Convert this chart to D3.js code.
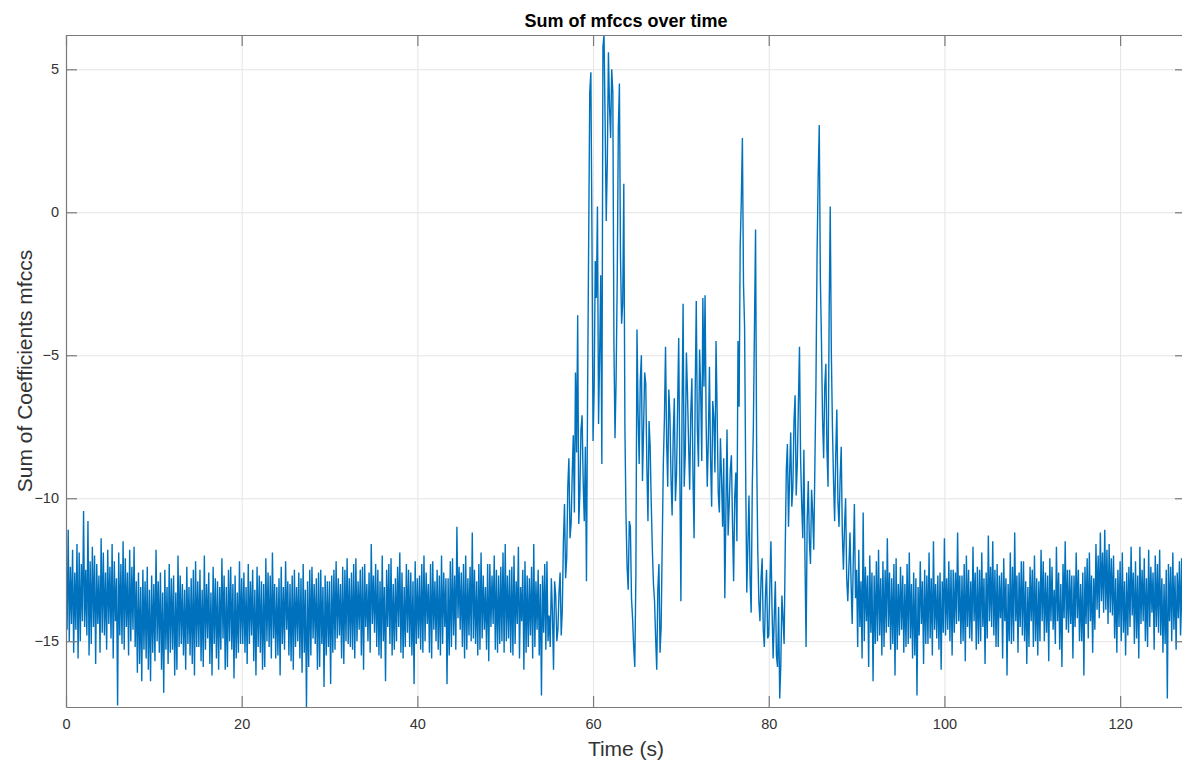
<!DOCTYPE html>
<html>
<head>
<meta charset="utf-8">
<script src="https://cdn.jsdelivr.net/npm/d3@7"></script>
<style>
  html, body { margin: 0; padding: 0; background: #ffffff; }
  svg { display: block; }
  text { font-family: "Liberation Sans", Arial, Helvetica, sans-serif; }
</style>
</head>
<body>
<svg id="chart" width="1182" height="764"></svg>
<script>
// Frame hop of the summed MFCC signal (seconds). Each section holds the
// frames on the hop grid and the frames half a hop later.
const frameHop = 0.25;

// Quiet opening, 0 s to 30 s (on-grid frames swing high, half-hop frames swing low)
const openingStart = 0;
const openingFrames = [
  -12.1, -11.1, -12.4, -11.8, -12.6, -11.6, -11.9, -12.3, -10.45, -12.5, -10.8, -12.2, -11.7, -12.0, -12.3, -12.7, -11.4, -11.9, -12.6, -11.8,
  -12.4, -11.6, -12.2, -12.8, -11.9, -12.3, -11.5, -12.1, -12.6, -11.8, -12.4, -11.7, -12.9, -12.6, -13.1, -12.5, -12.9, -12.4, -13.2, -12.7,
  -13.0, -11.8, -12.9, -12.6, -13.3, -12.5, -13.1, -12.3, -12.8, -12.7, -13.3, -12.0, -12.7, -13.0, -13.2, -12.4, -13.1, -12.8, -12.5, -12.2,
  -12.9, -12.5, -13.2, -12.0, -13.0, -12.6, -13.3, -12.4, -12.8, -12.9, -13.1, -12.1, -12.7, -13.1, -12.5, -12.4, -13.0, -12.7, -13.3, -12.2,
  -12.8, -12.6, -13.1, -12.3, -12.9, -12.5, -13.2, -12.4, -12.7, -12.9, -13.0, -12.1, -12.6, -12.7, -11.9, -13.0, -13.1, -12.8, -12.4, -13.1,
  -12.2, -12.9, -13.0, -12.7, -12.5, -13.1, -12.6, -12.8, -12.3, -13.2, -12.9, -12.5, -12.4, -13.0, -12.8, -12.6, -12.5, -13.1, -12.7, -12.9
];
const openingHalfFrames = [
  -14.6, -15.0, -14.4, -15.4, -14.6, -15.6, -15.0, -14.3, -14.5, -14.8, -15.5, -15.1, -14.5, -15.8, -14.4, -15.4, -14.7, -14.8, -15.3, -14.4,
  -14.9, -15.6, -14.3, -17.25, -14.8, -15.1, -15.3, -14.5, -15.5, -15.0, -14.6, -15.2, -16.1, -15.8, -16.4, -15.3, -15.6, -16.0, -16.4, -15.4,
  -15.7, -15.0, -15.4, -16.0, -16.8, -15.3, -15.8, -15.4, -15.3, -16.2, -16.0, -15.2, -15.1, -15.5, -16.0, -15.1, -15.5, -15.8, -16.2, -15.2,
  -15.2, -15.7, -15.9, -15.3, -14.9, -15.8, -16.2, -15.1, -15.6, -16.0, -15.3, -14.9, -16.0, -15.9, -15.0, -15.3, -16.3, -15.6, -15.4, -15.1,
  -15.1, -15.4, -15.8, -15.1, -14.8, -15.7, -16.2, -15.2, -15.4, -16.0, -15.9, -15.0, -15.2, -15.6, -14.9, -15.6, -15.5, -16.2, -15.1, -15.3,
  -14.6, -15.5, -15.7, -16.0, -15.2, -15.0, -15.6, -16.1, -15.4, -17.3, -15.9, -15.5, -14.9, -15.1, -16.0, -15.9, -15.1, -16.6, -15.5, -15.2
];

// Quiet middle, 30 s to 55 s
const middleStart = 30;
const middleFrames = [
  -12.9, -12.7, -12.5, -12.2, -12.8, -13.0, -12.4, -12.5, -12.1, -12.8, -12.6, -12.3, -12.1, -12.9, -12.5, -12.4, -12.3, -13.0, -12.6, -11.6,
  -12.7, -12.3, -12.5, -12.9, -12.0, -13.1, -12.5, -12.3, -12.1, -13.0, -12.8, -12.4, -11.9, -12.6, -13.1, -12.3, -12.5, -12.6, -12.9, -12.2,
  -12.8, -12.7, -12.3, -12.0, -12.6, -13.0, -12.3, -12.2, -12.9, -12.5, -12.7, -12.0, -12.6, -12.8, -12.8, -12.2, -12.1, -12.7, -11.0, -12.4,
  -12.6, -12.3, -12.0, -12.8, -12.4, -11.2, -12.5, -12.9, -12.3, -11.9, -12.7, -13.1, -12.3, -12.3, -12.7, -12.0, -12.5, -12.7, -12.4, -11.9,
  -11.6, -12.7, -12.5, -12.4, -12.0, -12.9, -11.7, -13.1, -12.5, -12.2, -12.7, -12.8, -12.4, -11.6, -12.9, -12.5, -13.0, -12.7, -12.3, -12.2
];
const middleHalfFrames = [
  -16.5, -15.4, -15.3, -14.9, -14.8, -15.6, -15.8, -15.0, -15.1, -15.2, -15.3, -15.6, -15.0, -14.6, -15.5, -16.0, -14.5, -15.0, -15.4, -14.4,
  -14.7, -15.2, -15.5, -15.6, -15.0, -16.4, -14.5, -15.1, -15.5, -15.3, -15.0, -14.5, -15.4, -15.6, -15.2, -14.7, -15.2, -15.5, -16.5, -15.1,
  -14.9, -15.3, -15.4, -15.0, -14.4, -15.4, -15.6, -14.6, -15.0, -15.3, -15.5, -15.1, -14.5, -16.5, -15.5, -15.2, -14.8, -15.3, -14.2, -14.6,
  -15.2, -15.6, -15.3, -14.8, -15.0, -14.9, -15.1, -15.5, -15.3, -14.9, -14.6, -15.3, -15.7, -14.5, -14.4, -15.3, -15.4, -15.1, -15.0, -15.4,
  -15.0, -14.9, -15.4, -15.5, -15.1, -14.4, -15.6, -14.3, -16.0, -15.4, -15.2, -14.8, -15.6, -15.2, -14.6, -15.5, -16.9, -14.7, -15.3, -15.0
];

// Active section with the loud bursts, 55 s to 90 s
const activeStart = 55;
const activeFrames = [
  -14.1, -12.8, -16.0, -13.4, -14.6, -12.6, -13.9, -10.2, -12.1, -8.6, -10.9, -7.8, -5.6, -3.6, -9.8, -7.1, -10.8, -12.9, -1.0, 4.9,
  -8.0, -1.7, 0.2, -5.0, -8.8, 6.2, -0.3, 5.6, 2.6, 4.2, -7.9, -2.4, 4.5, -3.9, 1.0, -10.6, -13.2, -11.0, -14.2, -15.9,
  -4.1, -8.8, -5.0, -7.6, -6.0, -10.8, -8.2, -11.8, -13.6, -16.0, -12.3, -14.5, -8.8, -4.7, -9.6, -7.1, -10.6, -6.5, -9.2, -4.4,
  -13.6, -3.2, -8.4, -6.3, -9.7, -5.8, -11.4, -3.1, -8.9, -6.2, -3.0, -2.9, -9.6, -5.4, -10.3, -7.2, -4.5, -9.8, -7.9, -11.0,
  -13.5, -7.6, -10.2, -8.5, -12.9, -9.1, -4.5, -1.2, 2.6, -4.0, -13.3, -9.9, -14.0, -7.5, -0.6, -11.8, -14.3, -12.1, -15.2, -12.5,
  -14.8, -11.5, -15.6, -12.9, -15.9, -17.0, -13.4, -15.1, -9.0, -11.0, -7.7, -9.6, -6.4, -8.8, -4.7, -10.2, -8.3, -15.2, -9.4, -12.3,
  -10.5, -8.9, -1.5, 3.05, -4.5, -8.6, -5.3, -9.6, 0.2, -7.5, -10.8, -6.9, -11.0, -8.2, -12.5, -10.0, -13.6, -11.2, -14.4, -10.2
];
const activeHalfFrames = [
  -15.2, -14.0, -12.9, -15.0, -13.3, -14.8, -11.5, -12.8, -9.6, -11.4, -9.2, -10.5, -8.4, -10.9, -7.6, -9.4, -8.2, -6.5, 4.2, -0.8,
  -6.2, -3.0, -7.4, -2.2, 5.8, 3.1, 1.8, 3.7, 5.0, -4.6, -5.8, 2.9, -1.6, -3.2, -7.5, -12.4, -10.8, -13.5, -15.2, -12.7,
  -7.0, -5.9, -9.4, -5.6, -8.9, -7.3, -10.2, -13.0, -14.9, -13.2, -15.4, -11.6, -7.2, -8.0, -6.2, -9.3, -7.8, -10.1, -6.8, -9.0,
  -7.1, -9.6, -4.9, -8.1, -7.0, -9.2, -6.4, -7.6, -4.8, -8.7, -6.1, -7.4, -7.9, -8.6, -6.6, -9.1, -7.0, -10.5, -9.3, -8.6,
  -10.4, -11.3, -9.0, -10.9, -10.0, -11.5, -6.8, 0.4, -2.5, -9.2, -11.6, -12.8, -9.6, -4.0, -8.5, -13.6, -12.8, -14.6, -13.4, -14.9,
  -13.1, -13.9, -14.2, -15.5, -13.8, -15.8, -14.2, -11.8, -8.1, -9.2, -10.3, -7.3, -9.9, -6.7, -8.6, -11.4, -12.1, -10.8, -11.5, -9.7,
  -11.8, -6.0, 1.2, -2.3, -7.2, -6.1, -8.3, -3.6, -4.9, -9.4, -8.5, -10.1, -9.3, -11.2, -11.0, -12.8, -12.4, -13.0, -12.1, -13.5
];

// Quiet closing, 90 s to the end
const closingStart = 90;
const closingFrames = [
  -12.5, -11.8, -12.9, -10.5, -12.4, -12.7, -12.0, -12.6, -12.7, -12.2, -11.8, -12.8, -12.2, -12.5, -11.4, -12.6, -12.8, -12.3, -12.1, -13.0,
  -12.4, -12.7, -13.0, -12.3, -11.9, -13.0, -12.6, -12.8, -13.1, -12.2, -12.9, -12.5, -12.7, -11.9, -12.8, -11.5, -13.0, -12.7, -12.6, -12.9,
  -11.4, -12.8, -12.2, -12.5, -12.5, -12.6, -11.2, -12.7, -12.7, -12.3, -12.0, -12.5, -12.9, -11.7, -12.6, -12.4, -12.5, -11.9, -12.8, -12.6,
  -11.3, -12.4, -11.5, -12.5, -12.3, -12.7, -12.6, -12.1, -12.8, -13.0, -11.9, -12.4, -11.2, -12.7, -12.6, -12.2, -12.2, -12.9, -13.1, -12.4,
  -12.5, -12.0, -12.8, -12.9, -11.8, -12.2, -12.6, -12.7, -12.1, -12.4, -13.2, -11.7, -12.6, -13.0, -12.3, -11.5, -12.5, -12.5, -12.7, -12.7,
  -11.9, -12.5, -13.0, -12.6, -12.4, -12.1, -11.9, -12.7, -12.8, -11.6, -12.0, -11.2, -11.9, -11.1, -11.8, -11.6, -12.1, -12.0, -12.8, -12.5,
  -12.2, -11.9, -12.9, -12.6, -12.4, -11.7, -12.6, -12.2, -12.7, -11.7, -12.5, -12.1, -12.8, -11.8, -12.4, -12.6, -12.0, -12.3, -11.8, -12.8,
  -13.0, -12.5, -12.3, -12.4, -11.9, -12.7, -12.6, -12.2, -12.1, -12.9, -12.5
];
const closingHalfFrames = [
  -15.2, -14.5, -15.6, -15.0, -14.3, -15.9, -14.7, -16.4, -15.1, -15.0, -14.8, -15.5, -15.2, -14.7, -14.5, -15.3, -15.1, -16.2, -15.3, -14.8,
  -14.6, -15.4, -15.2, -15.1, -14.9, -15.6, -15.5, -16.9, -14.8, -14.4, -15.8, -15.1, -15.1, -14.9, -15.5, -14.6, -14.9, -15.3, -16.0, -14.7,
  -14.8, -14.6, -15.0, -15.5, -14.7, -14.4, -14.3, -15.1, -15.0, -15.7, -14.5, -14.9, -15.0, -14.3, -15.3, -15.1, -15.0, -14.5, -15.8, -14.9,
  -14.3, -14.5, -14.8, -15.2, -15.2, -14.2, -15.6, -14.3, -16.2, -15.0, -15.1, -15.0, -14.3, -15.4, -14.5, -14.8, -15.0, -15.8, -15.2, -14.3,
  -15.2, -15.0, -15.5, -15.0, -14.3, -15.0, -14.7, -15.7, -14.3, -14.6, -15.1, -14.3, -15.3, -15.9, -14.2, -14.6, -14.7, -14.4, -15.6, -14.5,
  -14.2, -15.0, -15.0, -16.2, -14.4, -14.9, -14.3, -15.4, -14.6, -13.9, -14.2, -13.6, -14.0, -13.9, -14.4, -14.0, -14.1, -14.9, -15.4, -14.5,
  -15.0, -14.7, -15.5, -14.8, -14.5, -14.1, -15.1, -14.9, -15.6, -14.4, -14.3, -15.0, -15.2, -14.5, -14.0, -15.3, -14.5, -14.7, -14.8, -15.4,
  -15.1, -17.0, -14.3, -15.0, -14.6, -15.3, -14.2, -14.8, -15.0, -15.4
];

// Axis ticks and labels
const xTicks = [0, 20, 40, 60, 80, 100, 120];
const yTicks = [-15, -10, -5, 0, 5];
const titleText = "Sum of mfccs over time";
const xLabelText = "Time (s)";
const yLabelText = "Sum of Coefficients mfccs";

// Assemble the time-ordered signal
function framesAt(start, frames, offset) {
  return frames.map((v, i) => ({ t: start + offset + i * frameHop, v: v }));
}
const samples = [].concat(
  framesAt(openingStart, openingFrames, 0), framesAt(openingStart, openingHalfFrames, frameHop / 2),
  framesAt(middleStart, middleFrames, 0), framesAt(middleStart, middleHalfFrames, frameHop / 2),
  framesAt(activeStart, activeFrames, 0), framesAt(activeStart, activeHalfFrames, frameHop / 2),
  framesAt(closingStart, closingFrames, 0), framesAt(closingStart, closingHalfFrames, frameHop / 2)
).sort((a, b) => a.t - b.t);

const svg = d3.select("#chart");
const plot = { left: 66, top: 35, right: 1186, bottom: 707 };

// Tight limits around the data
const x = d3.scaleLinear()
  .domain(d3.extent(samples, d => d.t))
  .range([plot.left, plot.right]);
const y = d3.scaleLinear()
  .domain(d3.extent(samples, d => d.v))
  .range([plot.bottom, plot.top]);

const gridColor = "#e4e4e4";
const axisColor = "#7a7a7a";
const labelColor = "#333333";

// Grid
const grid = svg.append("g").attr("class", "grid");
grid.append("g")
  .attr("transform", `translate(0,${plot.bottom})`)
  .call(d3.axisBottom(x).tickValues(xTicks).tickSize(-(plot.bottom - plot.top)).tickFormat(""))
  .call(g => g.select(".domain").remove());
grid.append("g")
  .attr("transform", `translate(${plot.left},0)`)
  .call(d3.axisLeft(y).tickValues(yTicks).tickSize(-(plot.right - plot.left)).tickFormat(""))
  .call(g => g.select(".domain").remove());
grid.selectAll("line").attr("stroke", gridColor).attr("stroke-width", 1);

// Signal trace
svg.append("clipPath").attr("id", "plot-clip")
  .append("rect")
  .attr("x", plot.left).attr("y", plot.top)
  .attr("width", plot.right - plot.left).attr("height", plot.bottom - plot.top);

const line = d3.line().x(d => x(d.t)).y(d => y(d.v));
svg.append("path")
  .datum(samples)
  .attr("clip-path", "url(#plot-clip)")
  .attr("fill", "none")
  .attr("stroke", "#0072BD")
  .attr("stroke-width", 1.4)
  .attr("stroke-linejoin", "miter")
  .attr("d", line);

// Axes with inward ticks on all four sides
const tickLen = 11;
const axBottom = svg.append("g")
  .attr("transform", `translate(0,${plot.bottom})`)
  .call(d3.axisBottom(x).tickValues(xTicks).tickSizeInner(-tickLen).tickSizeOuter(0).tickPadding(12));
const axLeft = svg.append("g")
  .attr("transform", `translate(${plot.left},0)`)
  .call(d3.axisLeft(y).tickValues(yTicks).tickSizeInner(-tickLen).tickSizeOuter(0).tickPadding(7));
const axTop = svg.append("g")
  .attr("transform", `translate(0,${plot.top})`)
  .call(d3.axisTop(x).tickValues(xTicks).tickSizeInner(-tickLen).tickSizeOuter(0).tickFormat(""));
const axRight = svg.append("g")
  .attr("transform", `translate(${plot.right},0)`)
  .call(d3.axisRight(y).tickValues(yTicks).tickSizeInner(-tickLen).tickSizeOuter(0).tickFormat(""));

[axBottom, axLeft, axTop, axRight].forEach(ax => {
  ax.selectAll(".domain").attr("stroke", axisColor).attr("stroke-width", 1.2);
  ax.selectAll(".tick line").attr("stroke", axisColor).attr("stroke-width", 1.2);
  ax.selectAll(".tick text")
    .attr("fill", labelColor)
    .style("font-size", "14.5px")
    .style("font-family", "'Liberation Sans', Arial, sans-serif");
});

// Title and axis labels
svg.append("text")
  .attr("x", (plot.left + plot.right) / 2)
  .attr("y", 27)
  .attr("text-anchor", "middle")
  .attr("fill", "#000")
  .style("font-size", "18px")
  .style("font-weight", "bold")
  .text(titleText);

svg.append("text")
  .attr("x", (plot.left + plot.right) / 2)
  .attr("y", 756)
  .attr("text-anchor", "middle")
  .attr("fill", labelColor)
  .style("font-size", "21px")
  .text(xLabelText);

svg.append("text")
  .attr("transform", `translate(32,${(plot.top + plot.bottom) / 2}) rotate(-90)`)
  .attr("text-anchor", "middle")
  .attr("fill", labelColor)
  .style("font-size", "21px")
  .text(yLabelText);
</script>
</body>
</html>
